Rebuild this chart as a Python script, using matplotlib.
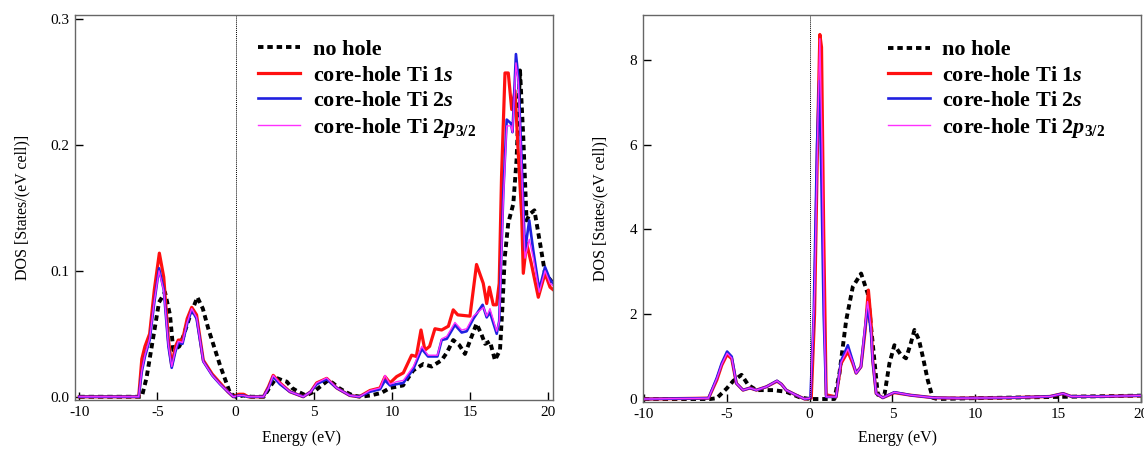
import matplotlib
matplotlib.use("Agg")
import matplotlib.pyplot as plt

plt.rcParams["font.family"] = ["Liberation Serif", "DejaVu Serif"]
plt.rcParams["axes.unicode_minus"] = False
plt.rcParams["mathtext.fontset"] = "custom"
plt.rcParams["mathtext.rm"] = "Liberation Serif:bold"
plt.rcParams["mathtext.it"] = "Liberation Serif:italic:bold"
plt.rcParams["mathtext.bf"] = "Liberation Serif:bold"

# ---------------- left panel (total DOS) ----------------
left_e_nohole = [-10, -6.0, -5.7, -5.3, -4.9, -4.52, -4.2, -3.99, -3.6, -3.35, -2.9, -2.45, -2.1, -1.75,
                 -1.0, -0.36, 0, 0.5, 1.0, 1.8, 2.2, 2.6, 3.0, 3.27, 3.6, 4.0, 4.5, 5.0, 5.5, 5.9, 6.2,
                 6.6, 7.0, 7.5, 8.0, 8.6, 9.3, 9.87, 10.3, 10.7, 11.36, 12.0, 12.53, 13.17, 13.5, 13.91,
                 14.3, 14.66, 15.0, 15.4, 15.7, 15.95, 16.26, 16.58, 16.9, 17.05, 17.2, 17.43, 17.75,
                 17.96, 18.18, 18.39, 18.6, 18.8, 19.1, 19.46, 19.78, 20.3]
left_dos_nohole = [0, 0, 0.015, 0.045, 0.075, 0.083, 0.065, 0.037, 0.04, 0.048, 0.065, 0.079, 0.07, 0.054,
                   0.025, 0.003, 0, 0.001, 0, 0, 0.008, 0.015, 0.013, 0.012, 0.007, 0.004, 0.001, 0.004,
                   0.009, 0.013, 0.011, 0.007, 0.004, 0.001, 0, 0.001, 0.003, 0.007, 0.008, 0.009, 0.021,
                   0.026, 0.024, 0.029, 0.035, 0.045, 0.041, 0.034, 0.045, 0.058, 0.05, 0.042, 0.044,
                   0.029, 0.037, 0.07, 0.11, 0.138, 0.153, 0.188, 0.259, 0.206, 0.14, 0.145, 0.148, 0.122,
                   0.098, 0.09]

left_e_1s = [-10, -6.2, -6.0, -5.8, -5.5, -5.2, -4.88, -4.6, -4.3, -4.09, -3.85, -3.67, -3.4, -3.1, -2.81,
             -2.5, -2.07, -1.5, -1.0, -0.5, -0.15, 0.2, 0.5, 0.8, 1.77, 2.1, 2.4, 2.83, 3.47, 4.32, 4.8,
             5.18, 5.82, 6.46, 7.3, 7.9, 8.59, 9.23, 9.55, 9.87, 10.29, 10.72, 11.25, 11.55, 11.85, 12.1,
             12.4, 12.74, 13.17, 13.6, 13.91, 14.2, 14.98, 15.4, 15.83, 16.05, 16.22, 16.47, 16.68, 16.85,
             17.0, 17.22, 17.43, 17.65, 17.86, 18.07, 18.29, 18.39, 18.6, 18.9, 19.35, 19.78, 20.1, 20.3]
left_dos_1s = [0, 0, 0.03, 0.04, 0.05, 0.085, 0.114, 0.095, 0.045, 0.025, 0.04, 0.045, 0.045, 0.062, 0.071,
               0.065, 0.029, 0.018, 0.011, 0.004, 0, 0.002, 0.002, 0, 0, 0.008, 0.017, 0.011, 0.004, 0,
               0.004, 0.011, 0.0146, 0.007, 0.001, 0, 0.005, 0.007, 0.016, 0.011, 0.016, 0.019, 0.033,
               0.032, 0.053, 0.037, 0.04, 0.054, 0.053, 0.056, 0.069, 0.065, 0.064, 0.105, 0.09, 0.074,
               0.087, 0.073, 0.073, 0.09, 0.175, 0.257, 0.257, 0.228, 0.243, 0.193, 0.143, 0.098, 0.122,
               0.106, 0.079, 0.098, 0.087, 0.085]

left_e_2s = [-10, -6.2, -6.0, -5.8, -5.5, -5.2, -4.9, -4.6, -4.3, -4.09, -3.85, -3.67, -3.4, -3.1, -2.81,
             -2.5, -2.07, -1.5, -1.0, -0.5, -0.15, 0.2, 0.5, 0.8, 1.77, 2.1, 2.4, 2.83, 3.47, 4.32, 4.8,
             5.18, 5.82, 6.46, 7.3, 7.9, 8.59, 9.23, 9.55, 9.87, 10.29, 10.72, 11.36, 11.9, 12.3, 12.9,
             13.17, 13.5, 14.02, 14.45, 14.77, 15.2, 15.79, 16.05, 16.26, 16.69, 16.85, 17.11, 17.33,
             17.6, 17.7, 17.92, 18.07, 18.29, 18.5, 18.77, 19.03, 19.41, 19.78, 20.1, 20.3]
left_dos_2s = [0, 0, 0.02, 0.032, 0.045, 0.075, 0.102, 0.085, 0.04, 0.023, 0.036, 0.043, 0.042, 0.058,
               0.069, 0.062, 0.028, 0.017, 0.01, 0.004, 0, 0.001, 0.001, 0, 0, 0.007, 0.016, 0.01, 0.004,
               0, 0.004, 0.01, 0.014, 0.007, 0.001, 0, 0.004, 0.006, 0.013, 0.009, 0.01, 0.011, 0.022,
               0.038, 0.032, 0.032, 0.045, 0.046, 0.057, 0.051, 0.052, 0.062, 0.073, 0.063, 0.067, 0.05,
               0.06, 0.161, 0.22, 0.217, 0.21, 0.272, 0.254, 0.185, 0.116, 0.14, 0.116, 0.085, 0.103,
               0.093, 0.09]

left_e_2p = [-10, -6.2, -6.0, -5.8, -5.5, -5.2, -4.9, -4.6, -4.3, -4.09, -3.85, -3.67, -3.4, -3.1, -2.81,
             -2.5, -2.07, -1.5, -1.0, -0.5, -0.15, 0.2, 0.5, 0.8, 1.77, 2.1, 2.4, 2.83, 3.47, 4.32, 4.8,
             5.18, 5.82, 6.46, 7.3, 7.9, 8.59, 9.23, 9.55, 9.87, 10.29, 10.72, 11.36, 11.9, 12.3, 12.9,
             13.17, 13.5, 14.02, 14.45, 14.77, 15.2, 15.85, 16.05, 16.26, 16.69, 16.85, 17.11, 17.33,
             17.6, 17.7, 17.92, 18.07, 18.29, 18.5, 18.77, 19.03, 19.41, 19.78, 20.1, 20.3]
left_dos_2p = [0, 0, 0.021, 0.033, 0.046, 0.076, 0.1, 0.084, 0.041, 0.024, 0.037, 0.044, 0.043, 0.059,
               0.07, 0.063, 0.028, 0.017, 0.01, 0.004, 0, 0.001, 0.001, 0, 0, 0.007, 0.017, 0.011, 0.004,
               0, 0.004, 0.011, 0.015, 0.007, 0.001, 0, 0.005, 0.007, 0.017, 0.01, 0.012, 0.013, 0.024,
               0.04, 0.033, 0.033, 0.046, 0.048, 0.059, 0.053, 0.054, 0.064, 0.071, 0.064, 0.07, 0.052,
               0.06, 0.155, 0.215, 0.215, 0.21, 0.265, 0.25, 0.18, 0.11, 0.125, 0.11, 0.083, 0.1,
               0.09, 0.088]

# ---------------- right panel (Ti d partial DOS) ----------------
right_e_nohole = [-10, -6.0, -5.6, -5.0, -4.6, -4.11, -3.7, -3.2, -2.2, -1.4, -0.6, 0, 1.5, 1.8, 2.21, 2.61,
                  3.11, 3.51, 3.81, 4.12, 4.52, 4.82, 5.12, 5.5, 5.82, 6.1, 6.33, 6.6, 6.84, 7.13, 7.43,
                  7.7, 10, 15, 20]
right_dos_nohole = [0, 0, 0.02, 0.25, 0.43, 0.57, 0.33, 0.21, 0.21, 0.17, 0.04, 0, 0, 0.6, 1.86, 2.65,
                    2.96, 2.49, 1.31, 0.1, 0.1, 0.84, 1.27, 1.05, 0.96, 1.3, 1.63, 1.4, 0.99, 0.45, 0.03,
                    0, 0.02, 0.05, 0.08]

right_e_1s = [-10, -6.1, -5.6, -5.3, -4.98, -4.7, -4.42, -4.02, -3.6, -3.21, -2.6, -1.97, -1.7, -1.41,
              -0.8, -0.3, 0.1, 0.3, 0.5, 0.62, 0.72, 0.85, 1.0, 1.6, 1.9, 2.31, 2.6, 2.81, 3.1, 3.35,
              3.55, 3.7, 3.81, 4.02, 4.42, 5.12, 6.1, 7.5, 9, 12, 14.5, 15.3, 15.8, 17.5, 20]
right_dos_1s = [0, 0.02, 0.45, 0.8, 1.05, 0.95, 0.37, 0.21, 0.26, 0.21, 0.29, 0.42, 0.35, 0.21, 0.09, 0,
                0.02, 2.0, 6.5, 8.6, 8.3, 4.0, 0.1, 0.05, 0.84, 1.12, 0.85, 0.61, 0.76, 1.6, 2.57, 1.9,
                0.92, 0.13, 0.03, 0.15, 0.09, 0.03, 0.02, 0.03, 0.06, 0.13, 0.06, 0.06, 0.08]

right_e_2s = [-10, -6.1, -5.6, -5.3, -4.98, -4.7, -4.42, -4.02, -3.6, -3.21, -2.6, -1.97, -1.7, -1.41,
              -0.8, -0.3, 0.05, 0.25, 0.45, 0.58, 0.7, 0.85, 1.0, 1.6, 1.9, 2.31, 2.6, 2.81, 3.1, 3.3,
              3.5, 3.7, 3.81, 4.02, 4.42, 5.12, 6.1, 7.5, 9, 12, 14.5, 15.3, 15.8, 17.5, 20]
right_dos_2s = [0, 0.02, 0.5, 0.85, 1.12, 1.0, 0.37, 0.21, 0.26, 0.21, 0.29, 0.43, 0.35, 0.21, 0.09, 0,
                0.02, 2.0, 6.0, 7.5, 5.5, 2.0, 0.05, 0.05, 0.9, 1.27, 0.9, 0.61, 0.76, 1.5, 2.2, 1.6,
                0.9, 0.13, 0.03, 0.16, 0.09, 0.03, 0.02, 0.03, 0.06, 0.13, 0.06, 0.06, 0.08]

right_e_2p = [-10, -6.1, -5.6, -5.3, -4.98, -4.7, -4.42, -4.02, -3.6, -3.21, -2.6, -1.97, -1.7, -1.41,
              -0.8, -0.3, 0.05, 0.3, 0.5, 0.62, 0.75, 0.9, 1.0, 1.6, 1.9, 2.31, 2.6, 2.81, 3.1, 3.3,
              3.5, 3.7, 3.81, 4.02, 4.42, 5.12, 6.1, 7.5, 9, 12, 14.5, 15.3, 15.8, 17.5, 20]
right_dos_2p = [0, 0.02, 0.48, 0.82, 1.08, 0.97, 0.37, 0.21, 0.26, 0.21, 0.29, 0.43, 0.35, 0.21, 0.09, 0,
                0.02, 2.5, 6.5, 8.5, 6.0, 1.5, 0.05, 0.05, 0.86, 1.18, 0.88, 0.61, 0.76, 1.55, 2.3, 1.7,
                0.9, 0.13, 0.03, 0.16, 0.09, 0.03, 0.02, 0.03, 0.06, 0.13, 0.06, 0.06, 0.08]

labels = ["no hole", "core-hole Ti 1$s$", "core-hole Ti 2$s$", r"core-hole Ti 2$\mathit{p_{3/2}}$"]
left_ticks_y = [0.0, 0.1, 0.2, 0.3]
right_ticks_y = [0, 2, 4, 6, 8]
ticks_x = [-10, -5, 0, 5, 10, 15, 20]

LEGEND_PROP = {"family": "Liberation Serif", "weight": "bold", "size": 16}


def draw_panel(ax, series, yticks, ytick_fmt):
    styles = [
        dict(color="black", lw=2.8, ls=(0, (1.4, 1.0))),
        dict(color="#ff1010", lw=2.3, ls="-"),
        dict(color="#2020e0", lw=1.9, ls="-"),
        dict(color="#ff30ff", lw=1.0, ls="-"),
    ]
    for (e, d), st, lab in zip(series, styles, labels):
        ax.plot(e, d, label=lab, **st)
    ax.axvline(0, color="black", lw=0.7, ls=(0, (1, 1)))
    ax.set_xticks(ticks_x)
    ax.set_yticks(yticks)
    ax.set_yticklabels([ytick_fmt.format(v) for v in yticks])
    ax.tick_params(direction="in", length=6, width=1, labelsize=11, top=False, right=False, pad=4)
    for sp in ax.spines.values():
        sp.set_color("#666666")
        sp.set_linewidth(1.0)
    ax.set_xlabel("Energy (eV)", fontsize=11.5)
    ax.set_ylabel("DOS [States/(eV cell)]", fontsize=11.5)


fig = plt.figure(figsize=(11.44, 4.5), dpi=100)

ax1 = fig.add_axes([0.0656, 0.111, 0.4178, 0.8556])
draw_panel(ax1,
           [(left_e_nohole, left_dos_nohole), (left_e_1s, left_dos_1s),
            (left_e_2s, left_dos_2s), (left_e_2p, left_dos_2p)],
           left_ticks_y, "{:.1f}")
ax1.set_xlim(-10.27, 20.29)
ax1.set_ylim(-0.0026, 0.303)
ax1.yaxis.set_label_coords(-0.094, 0.5)
ax1.xaxis.set_label_coords(0.473, -0.078)
ax1.legend(loc="upper left", bbox_to_anchor=(0.383, 0.936), frameon=False, handlelength=1.9,
           handletextpad=0.55, labelspacing=0.22, borderpad=0, borderaxespad=0, prop=LEGEND_PROP)

ax2 = fig.add_axes([0.562, 0.1067, 0.4353, 0.86])
draw_panel(ax2,
           [(right_e_nohole, right_dos_nohole), (right_e_1s, right_dos_1s),
            (right_e_2s, right_dos_2s), (right_e_2p, right_dos_2p)],
           right_ticks_y, "{:d}")
ax2.set_xlim(-10.06, 20.0)
ax2.set_ylim(-0.07, 9.06)
ax2.yaxis.set_label_coords(-0.07, 0.5)
ax2.xaxis.set_label_coords(0.512, -0.072)
ax2.legend(loc="upper left", bbox_to_anchor=(0.492, 0.936), frameon=False, handlelength=1.9,
           handletextpad=0.55, labelspacing=0.22, borderpad=0, borderaxespad=0, prop=LEGEND_PROP)

fig.savefig("out.png", dpi=100)
